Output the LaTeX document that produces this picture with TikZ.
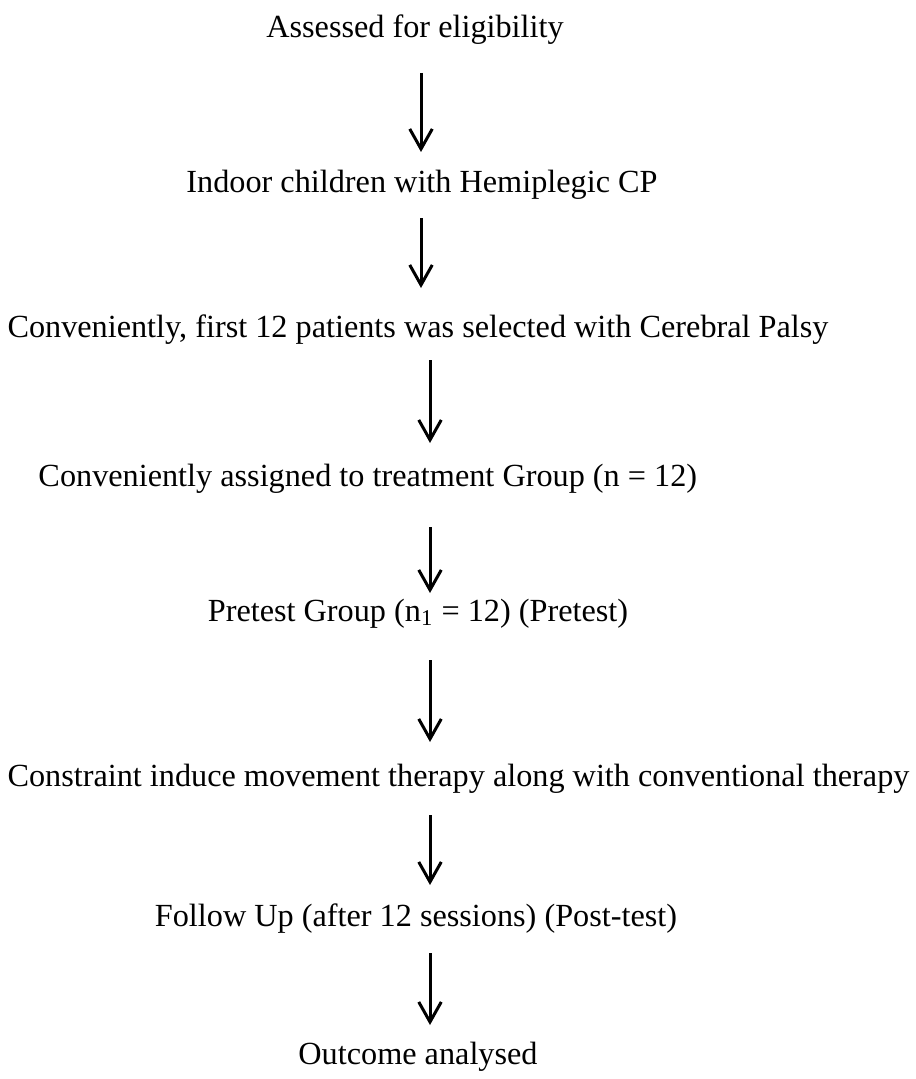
\documentclass[tikz,border=0pt]{standalone}
\usepackage{fontspec}
\setmainfont{Liberation Serif}
\usetikzlibrary{arrows.meta}
\begin{document}
\begin{tikzpicture}[x=0.4pt,y=-0.4pt,
  lbl/.style={inner sep=0pt,font=\fontsize{12.9}{15}\selectfont,anchor=base},
  lblw/.style={lbl,anchor=base west},
  flow/.style={line width=1.2pt,-{Straight Barb[length=8pt,width=9pt,line width=1.2pt]}}]
\useasboundingbox (0,0) rectangle (915,1079);
\node[lbl]  (t1) at (415,38) {Assessed for eligibility};
\node[lbl]  (t2) at (422,192) {Indoor children with Hemiplegic CP};
\node[lblw] (t3) at (7,337) {Conveniently, first 12 patients was selected with Cerebral Palsy};
\node[lblw] (t4) at (38,486) {Conveniently assigned to treatment Group (n = 12)};
\node[lbl]  (t5) at (418,621) {Pretest Group (n\textsubscript{1} = 12) (Pretest)};
\node[lblw] (t6) at (7,786) {Constraint induce movement therapy along with conventional therapy};
\node[lbl]  (t7) at (416,926) {Follow Up (after 12 sessions) (Post-test)};
\node[lbl]  (t8) at (418,1064) {Outcome analysed};
\coordinate (a1s) at (421,73);  \coordinate (a1e) at (421,152);
\coordinate (a2s) at (421,218); \coordinate (a2e) at (421,288);
\coordinate (a3s) at (430,360); \coordinate (a3e) at (430,443);
\coordinate (a4s) at (430,527); \coordinate (a4e) at (430,593);
\coordinate (a5s) at (430,660); \coordinate (a5e) at (430,742);
\coordinate (a6s) at (430,815); \coordinate (a6e) at (430,885);
\coordinate (a7s) at (430,953); \coordinate (a7e) at (430,1025);
\draw[flow] (a1s) -- (a1e);
\draw[flow] (a2s) -- (a2e);
\draw[flow] (a3s) -- (a3e);
\draw[flow] (a4s) -- (a4e);
\draw[flow] (a5s) -- (a5e);
\draw[flow] (a6s) -- (a6e);
\draw[flow] (a7s) -- (a7e);
\end{tikzpicture}
\end{document}
